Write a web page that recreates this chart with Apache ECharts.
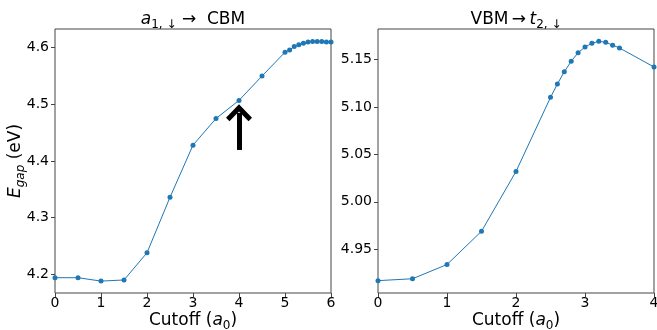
<!DOCTYPE html>
<html>
<head>
<meta charset="utf-8">
<script src="https://cdn.jsdelivr.net/npm/echarts@6/dist/echarts.min.js"></script>
<style>
  html, body { margin: 0; padding: 0; background: #fff; }
  #chart { width: 657px; height: 330px; }
</style>
</head>
<body>
<div id="chart"></div>
<script>
// left panel: a1,down -> CBM
var leftX = [0, 0.5, 1, 1.5, 2, 2.5, 3, 3.5, 4, 4.5, 5, 5.1, 5.2, 5.3, 5.4, 5.5, 5.6, 5.7, 5.8, 5.9, 6.0]
var leftY = [4.194, 4.194, 4.188, 4.190, 4.238, 4.336, 4.428, 4.475, 4.507, 4.550, 4.592, 4.596, 4.602, 4.605, 4.608, 4.610, 4.611, 4.611, 4.611, 4.610, 4.610]
var leftTicks = [4.2, 4.3, 4.4, 4.5, 4.6]

// right panel: VBM -> t2,down
var rightX = [0, 0.5, 1, 1.5, 2, 2.5, 2.6, 2.7, 2.8, 2.9, 3.0, 3.1, 3.2, 3.3, 3.4, 3.5, 4.0]
var rightY = [4.917, 4.919, 4.934, 4.969, 5.032, 5.110, 5.124, 5.137, 5.148, 5.157, 5.163, 5.167, 5.169, 5.168, 5.165, 5.162, 5.142]
var rightTicks = [4.95, 5.00, 5.05, 5.10, 5.15]

// arrow annotation at cutoff = 4
var arrowX = 4
var arrowFrom = 4.4195
var arrowTo = 4.485

var FONT = 'DejaVu Sans'
var BLUE = '#1f77b4'
var SPINE = '#444'

function pairs (xs, ys) {
  return xs.map(function (x, i) { return [x, ys[i]] })
}

var nameRich = {
  n: { fontFamily: FONT, fontSize: 17, color: '#000', lineHeight: 22 },
  i: { fontFamily: FONT, fontSize: 17, fontStyle: 'italic', color: '#000', lineHeight: 22 },
  s: { fontFamily: FONT, fontSize: 12, color: '#000', verticalAlign: 'bottom', lineHeight: 12 },
  si: { fontFamily: FONT, fontSize: 12, fontStyle: 'italic', color: '#000', verticalAlign: 'bottom', lineHeight: 12 }
}

function xAxisFor (grid, max) {
  return {
    type: 'value',
    gridIndex: grid,
    min: 0,
    max: max,
    interval: 1,
    name: '{n|Cutoff (}{i|a}{s|0}{n|)}',
    nameLocation: 'middle',
    nameGap: 17,
    nameMoveOverlap: false,
    nameTextStyle: { fontFamily: FONT, fontSize: 17, lineHeight: 22, rich: nameRich },
    axisLine: { show: false },
    axisTick: { show: true, length: 4, lineStyle: { color: SPINE, width: 1 } },
    axisLabel: { fontFamily: FONT, fontSize: 14, color: '#000', margin: 3 },
    splitLine: { show: false }
  }
}

function yAxisFor (grid, min, max, ticks, digits) {
  return {
    type: 'value',
    gridIndex: grid,
    min: min,
    max: max,
    axisLine: { show: false },
    axisTick: { show: true, length: 4, customValues: ticks, lineStyle: { color: SPINE, width: 1 } },
    axisLabel: {
      fontFamily: FONT, fontSize: 14, color: '#000', margin: 6,
      customValues: ticks,
      formatter: function (v) { return v.toFixed(digits) }
    },
    splitLine: { show: false }
  }
}

var chart = echarts.init(document.getElementById('chart'))

var leftYAxis = yAxisFor(0, 4.167, 4.633, leftTicks, 1)
leftYAxis.name = '{i|E}{si|gap}{n| (eV)}'
leftYAxis.nameLocation = 'middle'
leftYAxis.nameRotate = 90
leftYAxis.nameGap = 28
leftYAxis.nameMoveOverlap = false
leftYAxis.nameTextStyle = { fontFamily: FONT, fontSize: 17, lineHeight: 22, rich: nameRich }

var titleStyle = function (text) {
  return {
    text: text,
    x: 0,
    y: 0,
    align: 'center',
    verticalAlign: 'middle',
    fontFamily: FONT,
    fontSize: 17,
    fill: '#000',
    rich: {
      n: { fontFamily: FONT, fontSize: 17, fill: '#000', lineHeight: 22 },
      i: { fontFamily: FONT, fontSize: 17, fontStyle: 'italic', fill: '#000', lineHeight: 22 },
      s: { fontFamily: FONT, fontSize: 12, fill: '#000', verticalAlign: 'bottom', lineHeight: 12 }
    }
  }
}

var option = {
  animation: false,
  backgroundColor: '#fff',
  grid: [
    { left: 55, top: 29, width: 276, height: 264, show: true, borderColor: SPINE, borderWidth: 1, backgroundColor: 'transparent', containLabel: false, outerBoundsMode: 'none' },
    { left: 378, top: 29, width: 276, height: 264, show: true, borderColor: SPINE, borderWidth: 1, backgroundColor: 'transparent', containLabel: false, outerBoundsMode: 'none' }
  ],
  graphic: [
    { type: 'text', x: 193, y: 20, style: titleStyle('{i|a}{s|1, ↓}{n| →  CBM}') },
    { type: 'text', x: 516, y: 20, style: titleStyle('{n|VBM\u2009→\u2009}{i|t}{s|2, ↓}') }
  ],
  xAxis: [xAxisFor(0, 6), xAxisFor(1, 4)],
  yAxis: [leftYAxis, yAxisFor(1, 4.904, 5.182, rightTicks, 2)],
  series: [{
    type: 'line',
    xAxisIndex: 0,
    yAxisIndex: 0,
    data: pairs(leftX, leftY),
    symbol: 'circle',
    symbolSize: 5,
    showSymbol: true,
    color: BLUE,
    lineStyle: { width: 1, color: BLUE },
    itemStyle: { color: BLUE },
    emphasis: { disabled: true },
    markLine: {
      silent: true,
      animation: false,
      symbol: ['none', 'path://M13,0 L26,13 L22.5,16.5 L13,7 L3.5,16.5 L0,13 Z'],
      symbolSize: [26, 17],
      label: { show: false },
      lineStyle: { color: '#000', width: 5, type: 'solid' },
      itemStyle: { color: '#000' },
      data: [[{ coord: [arrowX, arrowFrom] }, { coord: [arrowX, arrowTo] }]]
    }
  }, {
    type: 'line',
    xAxisIndex: 1,
    yAxisIndex: 1,
    data: pairs(rightX, rightY),
    symbol: 'circle',
    symbolSize: 5,
    showSymbol: true,
    color: BLUE,
    lineStyle: { width: 1, color: BLUE },
    itemStyle: { color: BLUE },
    emphasis: { disabled: true }
  }]
}

chart.setOption(option)
</script>
</body>
</html>
